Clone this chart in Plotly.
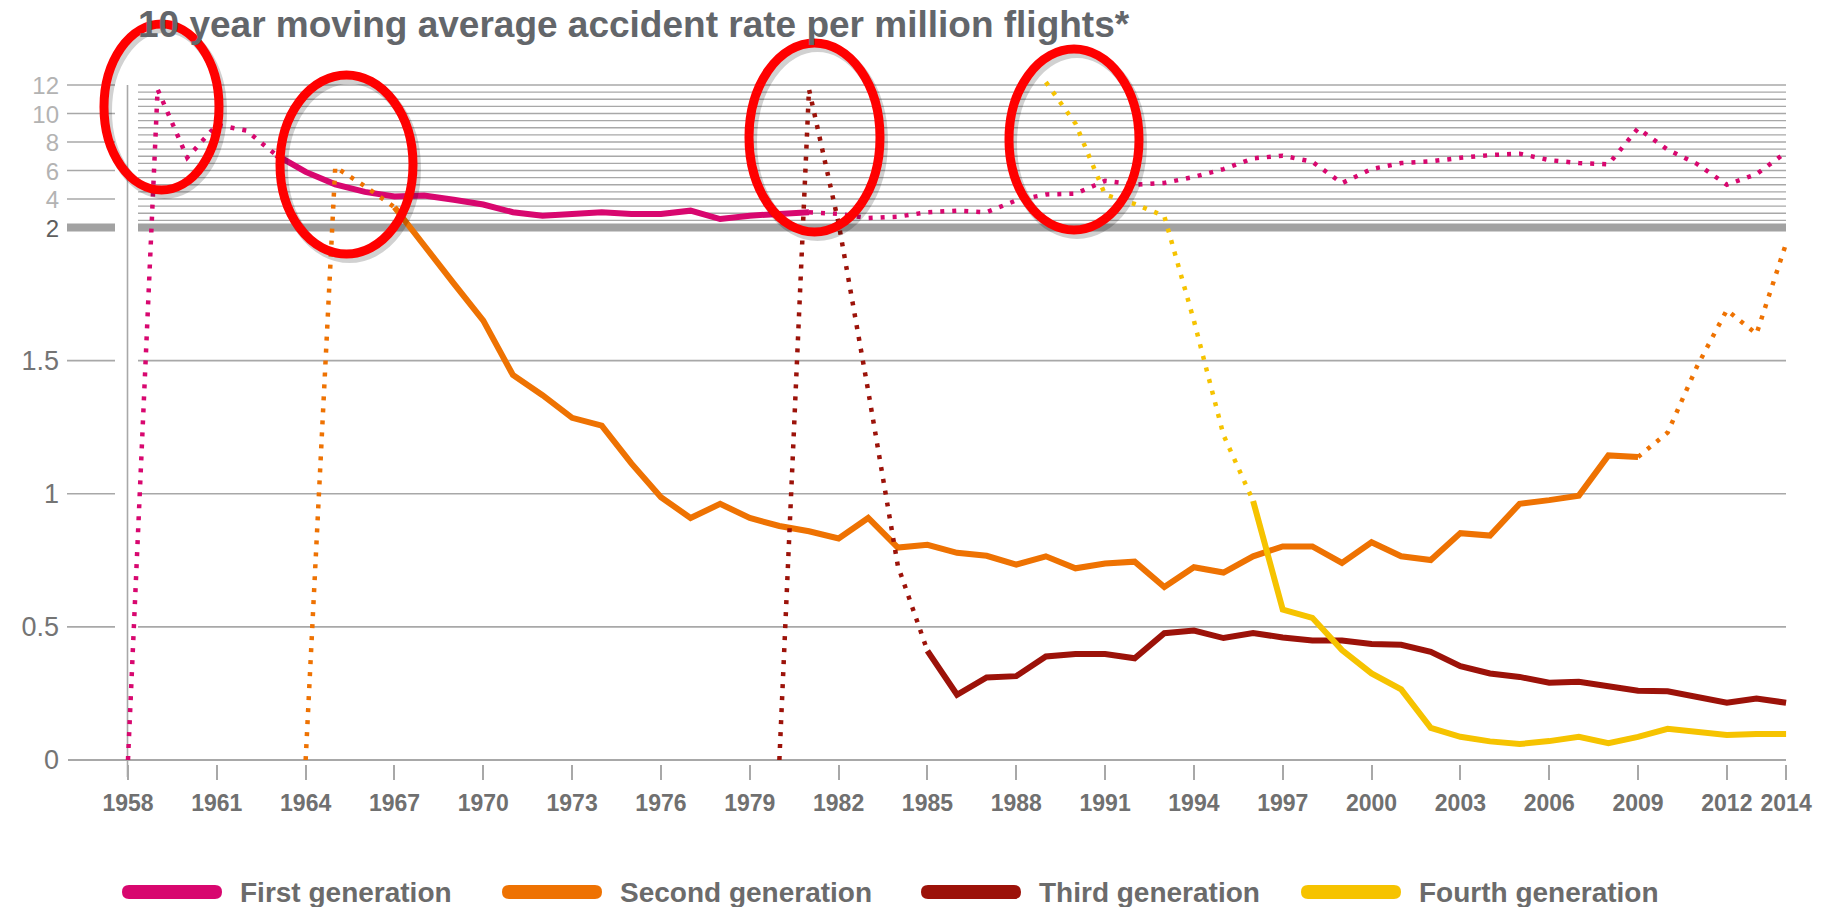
import plotly.graph_objects as go

# 10-year moving average accident rate per million flights, by aircraft generation
first_years = list(range(1958, 2015))
first_rate = [0, 11.7, 6.9, 9.2, 8.8, 7.1, 5.9, 5.03, 4.5, 4.18,
              4.25, 3.94, 3.61, 3.07, 2.83, 2.95, 3.07, 2.95, 2.95, 3.18,
              2.59, 2.83, 2.95, 3.07, 2.95, 2.66, 2.76, 3.07, 3.18, 3.07,
              3.9, 4.32, 4.37, 5.27, 5.01, 5.13, 5.55, 6.1, 6.85, 7.04,
              6.61, 5.11, 6.1, 6.52, 6.64, 6.89, 7.08, 7.18, 6.73, 6.52,
              6.43, 8.96, 7.46, 6.45, 5.0, 5.75, 7.27]
first_solid = (1963, 1981)

second_years = list(range(1964, 2015))
second_rate = [0, 6.25, 4.9, 3.42, 1.93, 1.79, 1.65, 1.446, 1.37, 1.285,
               1.256, 1.114, 0.987, 0.909, 0.962, 0.909, 0.879, 0.859, 0.832, 0.909,
               0.798, 0.808, 0.778, 0.767, 0.734, 0.765, 0.72, 0.738, 0.745, 0.65,
               0.724, 0.704, 0.765, 0.802, 0.802, 0.74, 0.818, 0.765, 0.751, 0.852,
               0.843, 0.962, 0.976, 0.993, 1.144, 1.138, 1.23, 1.48, 1.69, 1.60,
               1.94]
second_solid = (1967, 2009)

third_years = list(range(1980, 2015))
third_rate = [0, 11.7, 2.3, 1.386, 0.73, 0.41, 0.245, 0.31, 0.315, 0.389,
              0.398, 0.398, 0.382, 0.476, 0.486, 0.458, 0.477, 0.46, 0.449, 0.449,
              0.436, 0.433, 0.406, 0.352, 0.325, 0.312, 0.29, 0.294, 0.278, 0.26,
              0.258, 0.238, 0.215, 0.231, 0.215]
third_solid = (1985, 2014)

fourth_years = list(range(1989, 2015))
fourth_rate = [12.2, 9.3, 4.3, 3.65, 2.8, 1.65, 1.22, 0.973, 0.565, 0.534,
               0.413, 0.325, 0.265, 0.121, 0.087, 0.07, 0.06, 0.071, 0.087, 0.063,
               0.087, 0.117, 0.108, 0.094, 0.098, 0.098]
fourth_solid = (1996, 2014)

tick_years = [1958, 1961, 1964, 1967, 1970, 1973, 1976, 1979, 1982, 1985,
              1988, 1991, 1994, 1997, 2000, 2003, 2006, 2009, 2012, 2014]
lower_ticks = [0, 0.5, 1, 1.5]
upper_ticks = [4, 6, 8, 10, 12]
upper_grid = [2.5, 3, 3.5, 4, 4.5, 5, 5.5, 6, 6.5, 7, 7.5, 8, 8.5, 9, 9.5,
              10, 10.5, 11, 11.5, 12]

names = ["First generation", "Second generation", "Third generation", "Fourth generation"]
colors = ["#d8076f", "#ee7202", "#9c1209", "#f6c300"]

# broken axis: 0-2 linear, above 2 squeezed
UPPER_SCALE = 0.0535


def squash(v):
    return v if v <= 2 else 2 + (v - 2) * UPPER_SCALE


# page geometry
FIG_W, FIG_H = 1829, 907
M_L, M_R, M_T, M_B = 120, 37, 60, 143
PLOT_W = FIG_W - M_L - M_R
PLOT_H = FIG_H - M_T - M_B


def px_x(px):
    return (px - M_L) / PLOT_W


def px_y(py):
    return (FIG_H - M_B - py) / PLOT_H


GRID = "#a8a8a8"
FONT = "Liberation Sans"

fig = go.Figure()

series = [(first_years, first_rate, first_solid),
          (second_years, second_rate, second_solid),
          (third_years, third_rate, third_solid),
          (fourth_years, fourth_rate, fourth_solid)]

for (yrs, rates, (s0, s1)), name, col in zip(series, names, colors):
    parts = []
    if s0 > yrs[0]:
        parts.append(("dot", yrs[0], s0))
    parts.append(("solid", s0, s1))
    if s1 < yrs[-1]:
        parts.append(("dot", s1, yrs[-1]))
    for style, a, b in parts:
        xs = [y for y in yrs if a <= y <= b]
        vals = [r for y, r in zip(yrs, rates) if a <= y <= b]
        fig.add_trace(go.Scatter(
            x=xs, y=[squash(v) for v in vals], customdata=vals,
            mode="lines", name=name, showlegend=False,
            line=dict(color=col, width=6 if style == "solid" else 4.5,
                      dash="solid" if style == "solid" else "4px,8px"),
            hovertemplate=name + " %{x}: %{customdata}<extra></extra>"))

shapes = []
# gridlines of the squeezed upper band
for v in upper_grid:
    shapes.append(dict(type="line", xref="paper", yref="y", x0=px_x(138), x1=px_x(1786),
                       y0=squash(v), y1=squash(v), line=dict(color=GRID, width=1.4), layer="below"))
for v in [0.5, 1, 1.5]:
    shapes.append(dict(type="line", xref="paper", yref="y", x0=px_x(138), x1=px_x(1786),
                       y0=v, y1=v, line=dict(color=GRID, width=1.6), layer="below"))
# tick stubs left of the axis line
for v in upper_ticks + [0.5, 1, 1.5]:
    shapes.append(dict(type="line", xref="paper", yref="y", x0=px_x(67), x1=px_x(115),
                       y0=squash(v), y1=squash(v), line=dict(color=GRID, width=1.6), layer="below"))
# baseline
shapes.append(dict(type="line", xref="paper", yref="y", x0=px_x(68), x1=px_x(1786),
                   y0=0, y1=0, line=dict(color=GRID, width=2.2), layer="below"))
# heavy break line at 2
for a, b in [(67, 115), (138, 1786)]:
    shapes.append(dict(type="line", xref="paper", yref="y", x0=px_x(a), x1=px_x(b),
                       y0=2, y1=2, line=dict(color="#a2a2a2", width=8), layer="below"))
# vertical axis line
shapes.append(dict(type="line", xref="paper", yref="paper", x0=px_x(127.5), x1=px_x(127.5),
                   y0=px_y(777), y1=px_y(85), line=dict(color=GRID, width=1.6), layer="below"))

# hand-drawn red highlight ovals
ovals = [(104, 24, 219, 190), (280, 75, 413, 254), (749, 43, 880, 232), (1009, 49, 1139, 230)]
for x0, y0, x1, y1 in ovals:
    shapes.append(dict(type="circle", xref="paper", yref="paper",
                       x0=px_x(x0 + 3), x1=px_x(x1 + 3), y0=px_y(y0 + 4), y1=px_y(y1 + 4),
                       line=dict(color="rgba(0,0,0,0.18)", width=10), layer="above"))
    shapes.append(dict(type="circle", xref="paper", yref="paper",
                       x0=px_x(x0), x1=px_x(x1), y0=px_y(y0), y1=px_y(y1),
                       line=dict(color="#ff0000", width=9), layer="above"))

# legend (rounded swatches + labels)
annotations = []
legend_left = [122, 502, 921, 1301]
for name, col, lx in zip(names, colors, legend_left):
    shapes.append(dict(type="path", xref="paper", yref="paper", xsizemode="pixel", ysizemode="pixel",
                       xanchor=px_x(lx), yanchor=px_y(892),
                       path="M7,7 L93,7 Q100,7 100,0 Q100,-7 93,-7 L7,-7 Q0,-7 0,0 Q0,7 7,7 Z",
                       fillcolor=col, line=dict(width=0)))
    annotations.append(dict(text=name, xref="paper", yref="paper", x=px_x(lx + 116), y=px_y(892),
                            xanchor="left", yanchor="middle", showarrow=False,
                            font=dict(family=FONT, size=28, color="#6b6b6b", weight="bold")))

annotations.append(dict(text="10 year moving average accident rate per million flights*",
                        xref="paper", yref="paper", x=px_x(136), y=px_y(25),
                        xanchor="left", yanchor="middle", showarrow=False,
                        font=dict(family=FONT, size=37, color="#63666a", weight="bold")))

ytick_vals = [squash(v) for v in lower_ticks] + [2] + [squash(v) for v in upper_ticks]
ytick_text = ([f'<span style="color:#747474">{v:g}</span>' for v in lower_ticks]
              + ['<span style="color:#5e5e5e;font-size:24px">2</span>']
              + [f'<span style="color:#b3b3b3;font-size:24px">{v}</span>' for v in upper_ticks])

fig.update_layout(
    width=FIG_W, height=FIG_H,
    margin=dict(l=M_L, r=M_R, t=M_T, b=M_B),
    paper_bgcolor="white", plot_bgcolor="white",
    showlegend=False,
    font=dict(family=FONT),
    shapes=shapes, annotations=annotations,
    xaxis=dict(range=[1957.73, 2014.2], tickmode="array", tickvals=tick_years,
               showgrid=False, zeroline=False, showline=False,
               ticks="outside", ticklen=15, tickwidth=1.5, tickcolor=GRID,
               ticklabelstandoff=3,
               tickfont=dict(family=FONT, size=23, color="#707070", weight="bold")),
    yaxis=dict(range=[-0.015, 2.629], tickmode="array", tickvals=ytick_vals, ticktext=ytick_text,
               showgrid=False, zeroline=False, showline=False, ticks="",
               ticklabelstandoff=60,
               tickfont=dict(family=FONT, size=27, color="#747474")),
)

fig.write_html("out.html", config={"displayModeBar": False},
               post_script="document.body.style.margin='0';")
